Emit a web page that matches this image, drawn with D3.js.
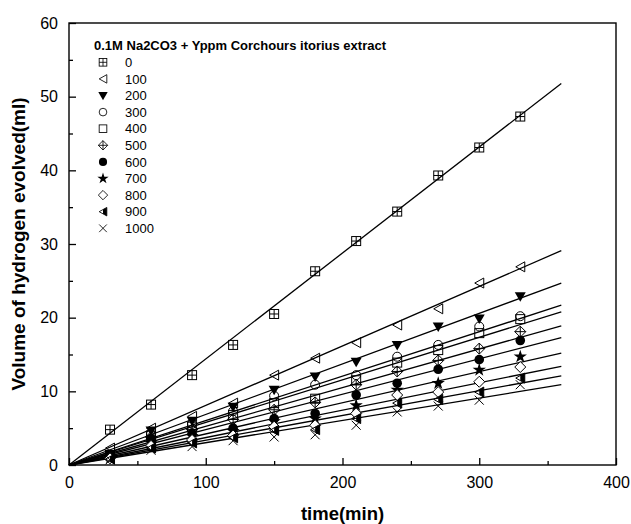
<!DOCTYPE html>
<html>
<head>
<meta charset="utf-8">
<script src="https://cdn.jsdelivr.net/npm/d3@7"></script>
<style>
  body { margin: 0; background: #fff; }
  text { font-family: Arial, "Liberation Sans", sans-serif; fill: #000; }
</style>
</head>
<body>
<div id="chart"></div>
<script>
// Plot constants
const WIDTH = 631;
const HEIGHT = 524;
const margin = { left: 69, top: 23, right: 15, bottom: 59 };

// Data
const times = [30, 60, 90, 120, 150, 180, 210, 240, 270, 300, 330];
const concentrations = ["0", "100", "200", "300", "400", "500", "600", "700", "800", "900", "1000"];
const markerTypes = ["boxplus", "triLeft", "triDownFill", "circle", "square", "diamondPlus",
  "circleFill", "star", "diamond", "triLeftHalf", "cross"];

const h0 = [4.8, 8.2, 12.2, 16.3, 20.5, 26.3, 30.4, 34.4, 39.3, 43.1, 47.3];
const h100 = [2.3, 5.0, 6.6, 8.4, 12.2, 14.5, 16.6, 19.0, 21.2, 24.7, 26.9];
const h200 = [1.5, 4.7, 6.0, 7.9, 10.2, 12.0, 14.0, 16.3, 18.8, 19.9, 22.9];
const h300 = [1.4, 4.2, 5.6, 7.3, 9.4, 10.9, 12.2, 14.7, 16.3, 18.8, 20.2];
const h400 = [1.3, 4.0, 5.2, 6.8, 8.4, 9.0, 11.5, 13.9, 15.6, 17.9, 19.8];
const h500 = [1.2, 3.8, 4.8, 6.2, 7.5, 8.5, 10.9, 12.7, 14.2, 15.8, 18.1];
const h600 = [1.1, 3.6, 4.3, 5.0, 6.3, 7.0, 9.5, 11.1, 13.0, 14.3, 16.9];
const h700 = [1.0, 3.0, 3.9, 4.6, 5.9, 6.3, 8.1, 10.2, 11.1, 12.9, 14.7];
const h800 = [0.9, 2.6, 3.4, 4.0, 5.2, 5.4, 7.0, 9.5, 9.9, 11.3, 13.3];
const h900 = [0.8, 2.3, 3.0, 3.7, 4.7, 4.8, 6.3, 8.4, 8.9, 9.9, 11.8];
const h1000 = [0.7, 2.0, 2.5, 3.3, 3.8, 4.1, 5.4, 7.2, 8.0, 8.8, 10.9];
const seriesValues = [h0, h100, h200, h300, h400, h500, h600, h700, h800, h900, h1000];

// linear fits: value of each fitted line at the end time
const fitEndTime = 360;
const fitEndValues = [51.8, 29.1, 24.7, 21.7, 20.8, 18.9, 17.3, 15.2, 13.4, 12.1, 10.9];

const xTicks = [0, 100, 200, 300, 400];
const xMinorTicks = [50, 150, 250, 350];
const yTicks = [0, 10, 20, 30, 40, 50, 60];
const yMinorTicks = [5, 15, 25, 35, 45, 55];

const legendTitle = "0.1M Na2CO3 + Yppm Corchours itorius extract";

// Canvas
const svg = d3.select("#chart").append("svg")
  .attr("width", WIDTH).attr("height", HEIGHT);
svg.append("rect").attr("width", WIDTH).attr("height", HEIGHT).attr("fill", "#fff");

const innerW = WIDTH - margin.left - margin.right;
const innerH = HEIGHT - margin.top - margin.bottom;
const g = svg.append("g").attr("transform", `translate(${margin.left},${margin.top})`);

const x = d3.scaleLinear().domain([0, 400]).range([0, innerW]);
const y = d3.scaleLinear().domain([0, 60]).range([innerH, 0]);

// Axes, ticks point inward
function styleAxis(sel) {
  sel.select(".domain").remove();
  sel.selectAll(".tick line").attr("stroke", "#000").attr("stroke-width", 1.3);
  sel.selectAll(".tick text").attr("font-size", 16).attr("fill", "#000");
}
g.append("g").attr("transform", `translate(0,${innerH})`)
  .call(d3.axisBottom(x).tickValues(xTicks).tickSize(-7).tickPadding(12))
  .call(styleAxis);
g.append("g").attr("transform", `translate(0,${innerH})`)
  .call(d3.axisBottom(x).tickValues(xMinorTicks).tickSize(-4).tickFormat(""))
  .call(styleAxis);
g.append("g")
  .call(d3.axisLeft(y).tickValues(yTicks).tickSize(-7).tickPadding(11))
  .call(styleAxis);
g.append("g")
  .call(d3.axisLeft(y).tickValues(yMinorTicks).tickSize(-4).tickFormat(""))
  .call(styleAxis);

// frame
g.append("rect")
  .attr("width", innerW).attr("height", innerH)
  .attr("fill", "none").attr("stroke", "#000").attr("stroke-width", 1.4);

// Axis titles
svg.append("text")
  .attr("x", margin.left + innerW / 2).attr("y", 520)
  .attr("text-anchor", "middle").attr("font-size", 18.5).attr("font-weight", "bold")
  .text("time(min)");
svg.append("text")
  .attr("transform", `translate(25,${margin.top + innerH / 2}) rotate(-90)`)
  .attr("text-anchor", "middle").attr("font-size", 19).attr("font-weight", "bold")
  .text("Volume of hydrogen evolved(ml)");

// Marker drawing
function drawMarker(sel, type) {
  const s = 4.5;
  const stroke = (e) => e.attr("stroke", "#000").attr("stroke-width", 1);
  switch (type) {
    case "boxplus":
      stroke(sel.append("rect").attr("x", -s).attr("y", -s).attr("width", 2 * s).attr("height", 2 * s).attr("fill", "none"));
      stroke(sel.append("path").attr("d", `M${-s},0H${s}M0,${-s}V${s}`));
      break;
    case "triLeft":
      stroke(sel.append("path").attr("d", `M${-s},0L${s},${-s - 0.5}L${s},${s + 0.5}Z`).attr("fill", "none"));
      break;
    case "triDownFill":
      sel.append("path").attr("d", `M${-s - 1},${-s + 0.5}L${s + 1},${-s + 0.5}L0,${s + 1}Z`).attr("fill", "#000");
      break;
    case "circle":
      stroke(sel.append("circle").attr("r", s).attr("fill", "none"));
      break;
    case "square":
      stroke(sel.append("rect").attr("x", -s).attr("y", -s).attr("width", 2 * s).attr("height", 2 * s).attr("fill", "none"));
      break;
    case "diamondPlus":
      stroke(sel.append("path").attr("d", `M0,${-s - 1}L${s + 1},0L0,${s + 1}L${-s - 1},0Z`).attr("fill", "none"));
      stroke(sel.append("path").attr("d", `M${-s - 1},0H${s + 1}M0,${-s - 1}V${s + 1}`));
      break;
    case "circleFill":
      sel.append("circle").attr("r", s + 0.3).attr("fill", "#000");
      break;
    case "star":
      sel.append("path").attr("d", d3.symbol(d3.symbolStar, 55)()).attr("fill", "#000");
      break;
    case "diamond":
      stroke(sel.append("path").attr("d", `M0,${-s - 1}L${s + 1},0L0,${s + 1}L${-s - 1},0Z`).attr("fill", "#fff"));
      break;
    case "triLeftHalf":
      stroke(sel.append("path").attr("d", `M${-s},0L${s},${-s - 0.5}L${s},${s + 0.5}Z`).attr("fill", "none"));
      sel.append("path").attr("d", `M0,${-s / 2 - 0.3}L${s},${-s - 0.5}L${s},${s + 0.5}L0,${s / 2 + 0.3}Z`).attr("fill", "#000");
      break;
    case "cross":
      stroke(sel.append("path").attr("d", `M${-s},${-s}L${s},${s}M${-s},${s}L${s},${-s}`));
      break;
  }
}

// Fitted lines
const line = d3.line().x((d) => x(d[0])).y((d) => y(d[1]));
g.append("g").selectAll("path")
  .data(fitEndValues)
  .join("path")
  .attr("d", (d) => line([[0, 0], [fitEndTime, d]]))
  .attr("fill", "none").attr("stroke", "#000").attr("stroke-width", 1.3);

// Points
seriesValues.forEach((vals, i) => {
  g.append("g").selectAll("g")
    .data(vals)
    .join("g")
    .attr("transform", (d, j) => `translate(${x(times[j])},${y(d)})`)
    .each(function () { drawMarker(d3.select(this), markerTypes[i]); });
});

// Legend
const legend = svg.append("g").attr("transform", "translate(94,0)");
legend.append("text")
  .attr("x", 0).attr("y", 49.5)
  .attr("font-size", 13).attr("font-weight", "bold")
  .text(legendTitle);
const rowH = 16.6;
concentrations.forEach((c, i) => {
  const cy = 62.3 + i * rowH;
  const m = legend.append("g").attr("transform", `translate(9,${cy}) scale(0.85)`);
  drawMarker(m, markerTypes[i]);
  legend.append("text")
    .attr("x", 31).attr("y", cy).attr("dy", "0.36em")
    .attr("font-size", 13)
    .text(c);
});
</script>
</body>
</html>
